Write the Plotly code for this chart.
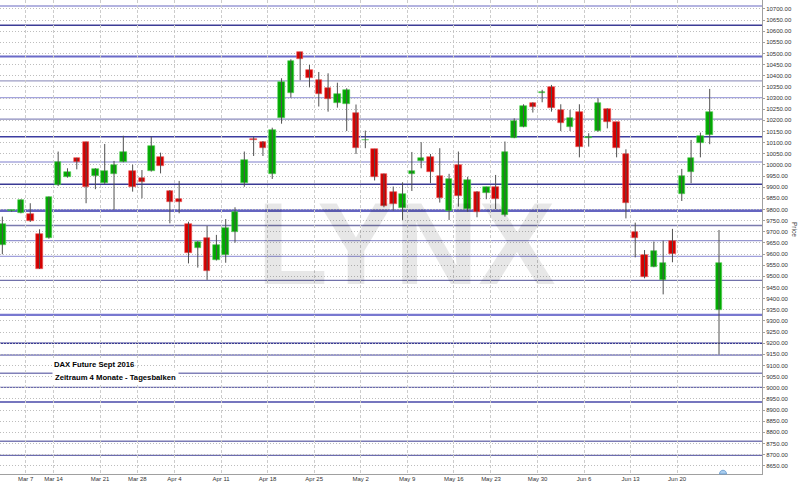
import plotly.graph_objects as go
from datetime import date, timedelta

# ---------------- data ----------------
dates = [
    "2016-03-02", "2016-03-03", "2016-03-04",
    "2016-03-07", "2016-03-08", "2016-03-09",
    "2016-03-14", "2016-03-15", "2016-03-16", "2016-03-17", "2016-03-18",
    "2016-03-21", "2016-03-22", "2016-03-23", "2016-03-24",
    "2016-03-29", "2016-03-30", "2016-03-31", "2016-04-01",
    "2016-04-04", "2016-04-05", "2016-04-06", "2016-04-07", "2016-04-08",
    "2016-04-11", "2016-04-12", "2016-04-13", "2016-04-14", "2016-04-15",
    "2016-04-18", "2016-04-19", "2016-04-20", "2016-04-21", "2016-04-22",
    "2016-04-25", "2016-04-26", "2016-04-27", "2016-04-28", "2016-04-29",
    "2016-05-02", "2016-05-03", "2016-05-04", "2016-05-05", "2016-05-06",
    "2016-05-09", "2016-05-10", "2016-05-11", "2016-05-12", "2016-05-13",
    "2016-05-17", "2016-05-18", "2016-05-19", "2016-05-20",
    "2016-05-23", "2016-05-24", "2016-05-25", "2016-05-26", "2016-05-27",
    "2016-05-30", "2016-05-31", "2016-06-01", "2016-06-02", "2016-06-03",
    "2016-06-06", "2016-06-07", "2016-06-08", "2016-06-09", "2016-06-10",
    "2016-06-13", "2016-06-14", "2016-06-15", "2016-06-16", "2016-06-17",
    "2016-06-20", "2016-06-21", "2016-06-22", "2016-06-23", "2016-06-24",
]

opens = [9642, 9793, 9786, 9778, 9689, 9671, 9908, 9946, 10030, 10102,
         9950, 9917, 9959, 10015, 9974, 9943, 9973, 10036, 9885, 9847,
         9735, 9626, 9672, 9573, 9596, 9701, 9920, 10118, 10105, 9959,
         10212, 10323, 10505, 10425, 10380, 10347, 10277, 10275, 10233, 10110,
         10070, 9959, 9877, 9805, 9959, 10018, 10037, 9952, 9795, 10000,
         9802, 9880, 9876, 9903, 9775, 10122, 10172, 10277, 10322, 10351,
         10247, 10172, 10236, 10120, 10152, 10250, 10191, 10050, 9699, 9594,
         9543, 9485, 9659, 9868, 9968, 10097, 10132, 9349]
highs = [9768, 9797, 9845, 9828, 9711, 9858, 10060, 9985, 10032, 10104,
         9985, 10094, 10018, 10131, 10001, 9977, 10127, 10055, 9887, 9928,
         9745, 9658, 9726, 9686, 9757, 9810, 10060, 10127, 10107, 10167,
         10389, 10474, 10507, 10449, 10417, 10411, 10369, 10344, 10271, 10154,
         10072, 9961, 9903, 9922, 10058, 10102, 10049, 10075, 9960, 10060,
         9947, 9882, 9902, 9955, 10105, 10209, 10272, 10281, 10337, 10359,
         10272, 10247, 10272, 10142, 10299, 10254, 10193, 10070, 9741, 9618,
         9656, 9660, 9713, 9982, 10112, 10145, 10341, 9708]
lows = [9599, 9790, 9783, 9744, 9533, 9669, 9905, 9943, 9980, 9828,
        9891, 9915, 9798, 10012, 9880, 9850, 9970, 9962, 9738, 9783,
        9558, 9539, 9484, 9571, 9561, 9651, 9902, 10040, 10040, 9937,
        10185, 10302, 10380, 10348, 10262, 10239, 10257, 10152, 10049, 10075,
        9930, 9810, 9795, 9753, 9883, 9985, 9918, 9831, 9753, 9813,
        9790, 9765, 9846, 9802, 9768, 10120, 10169, 10235, 10281, 10239,
        10152, 10152, 10034, 10082, 10149, 10164, 10034, 9760, 9585, 9491,
        9541, 9419, 9563, 9838, 9918, 10034, 10093, 9150]
closes = [9735, 9795, 9843, 9748, 9535, 9856, 10015, 9967, 10015, 9902,
          9983, 9971, 10000, 10060, 9900, 9922, 10085, 9995, 9832, 9835,
          9603, 9656, 9526, 9641, 9716, 9787, 10022, 10114, 10076, 10157,
          10372, 10465, 10474, 10390, 10320, 10295, 10319, 10335, 10078, 10114,
          9948, 9817, 9823, 9868, 9973, 10030, 9970, 9850, 9935, 9862,
          9932, 9787, 9900, 9847, 10060, 10197, 10265, 10262, 10329, 10254,
          10187, 10209, 10082, 10127, 10277, 10194, 10078, 9828, 9674, 9499,
          9615, 9560, 9602, 9950, 10030, 10130, 10236, 9558]

# horizontal support / resistance levels
levels = [10713, 10627, 10486, 10377, 10302, 10205, 10126, 10013, 9913, 9795,
          9728, 9660, 9590, 9482, 9327, 9200, 9147, 9065, 9002, 8936,
          8760, 8697]
level_colors = ["#9a9ad6", "#3c3c96", "#6b6bc8", "#9c9cc4", "#a4a4dc", "#8a8abc",
                "#3c3ca0", "#a8a8dc", "#3a3a94", "#6464c0", "#7a7aae", "#9494d0",
                "#a0a0dc", "#7070aa", "#7878d0", "#3a3a96", "#7a7ab8", "#8080b8",
                "#6a6aae", "#4848a8", "#7a7ab4", "#6c6cae"]
level_widths = [1.6, 1.4, 2.0, 1.3, 1.3, 1.3, 1.5, 1.3, 1.5, 2.6,
                1.3, 1.3, 1.3, 1.3, 2.2, 1.5, 1.3, 1.3, 1.3, 1.5,
                1.3, 1.3]

title_lines = ["DAX Future Sept 2016", "Zeitraum 4 Monate - Tagesbalken"]
watermark = "LYNX"
axis_title = "Price"

# ---------------- figure ----------------
PW, PH = 762, 474  # plot area size in px

n = len(dates)
x = list(range(n))
dts = [date.fromisoformat(d) for d in dates]

tickvals, ticktext, seen = [], [], set()
for i, d in enumerate(dts):
    monday = d - timedelta(days=d.weekday())
    if monday not in seen:
        seen.add(monday)
        tickvals.append(i - 0.5)
        ticktext.append(f"{monday:%b} {monday.day}")

wx, wy = [], []
for i in x:
    wx += [i, i, None]
    wy += [lows[i], highs[i], None]

bases = [min(o, c) for o, c in zip(opens, closes)]
heights = [max(abs(c - o), 3) for o, c in zip(opens, closes)]
fills = ["#00aa00" if c >= o else "#d40000" for o, c in zip(opens, closes)]
edges = ["#55cc55" if c >= o else "#ee5555" for o, c in zip(opens, closes)]

fig = go.Figure()
fig.add_trace(go.Scatter(x=wx, y=wy, mode="lines",
                         line=dict(color="#505050", width=1),
                         hoverinfo="skip", showlegend=False))
fig.add_trace(go.Bar(x=x, y=heights, base=bases, width=0.7,
                     marker=dict(color=fills, line=dict(color=edges, width=0.6)),
                     showlegend=False))

for lvl, col, w in zip(levels, level_colors, level_widths):
    fig.add_shape(type="line", xref="paper", x0=0, x1=1, yref="y", y0=lvl, y1=lvl,
                  line=dict(color=col, width=w), layer="below")


def px(xp, yp):
    return f"{xp / PW:.5f},{1 - yp / PH:.5f}"


# small dome icon sitting on the x axis
fig.add_shape(type="path", xref="paper", yref="paper",
              path=f"M {px(719.5, 474)} C {px(719.5, 469)} {px(726.5, 469)} {px(726.5, 474)} Z",
              fillcolor="#a9cdee", line=dict(color="#5f95cc", width=0.8),
              layer="above")

# watermark
fig.add_annotation(text=f"<b>{watermark}</b>", xref="paper", yref="paper",
                   x=406 / PW, y=1 - 244 / PH, xanchor="center", yanchor="middle",
                   showarrow=False,
                   font=dict(family="Liberation Sans, Arial", size=116,
                             color="rgba(0,0,0,0.095)"))

# caption box
fig.add_annotation(text=f"<b>{title_lines[0]}</b>", xref="paper", yref="paper",
                   x=52 / PW, y=1 - 364.5 / PH, xanchor="left", yanchor="middle",
                   showarrow=False, bgcolor="white", borderpad=1,
                   font=dict(family="Liberation Sans", size=7.7, color="#000000"))
fig.add_annotation(text=f"<b>{title_lines[1]}</b>", xref="paper", yref="paper",
                   x=52 / PW, y=1 - 377 / PH, xanchor="left", yanchor="middle",
                   showarrow=False, bgcolor="white", borderpad=2,
                   font=dict(family="Liberation Sans", size=7.7, color="#000000"))

# axis title
fig.add_annotation(text=axis_title, xref="paper", yref="paper",
                   x=1, xshift=33, y=1 - 229 / PH, xanchor="center", yanchor="middle",
                   textangle=90, showarrow=False,
                   font=dict(family="Liberation Sans", size=6.5, color="#444444"))

fig.update_layout(
    width=800, height=486,
    margin=dict(l=0, r=38, t=0, b=12),
    paper_bgcolor="white", plot_bgcolor="white",
    font=dict(family="Liberation Sans", size=6, color="#333333"),
    bargap=0, showlegend=False,
    xaxis=dict(range=[-0.25, 81.62], tickmode="array", tickvals=tickvals,
               ticktext=ticktext, showgrid=True, gridcolor="#cccccc",
               griddash="3px,2px", gridwidth=1, zeroline=False,
               showline=True, linecolor="#a0a0a0", linewidth=1,
               ticks="", ticklabelstandoff=-1, automargin=False, fixedrange=True),
    yaxis=dict(range=[8613, 10740], side="right", dtick=50, tick0=0,
               tickformat=".2f", showgrid=True, gridcolor="#bdbdbd",
               griddash="1px,2px", gridwidth=1, zeroline=False,
               showline=True, linecolor="#a0a0a0", linewidth=1,
               ticks="outside", ticklen=2, tickcolor="#a0a0a0",
               automargin=False, fixedrange=True),
)

fig.write_html("out.html",
               config={"displayModeBar": False},
               post_script="document.body.style.margin='0';"
                           "document.body.style.overflow='hidden';")
